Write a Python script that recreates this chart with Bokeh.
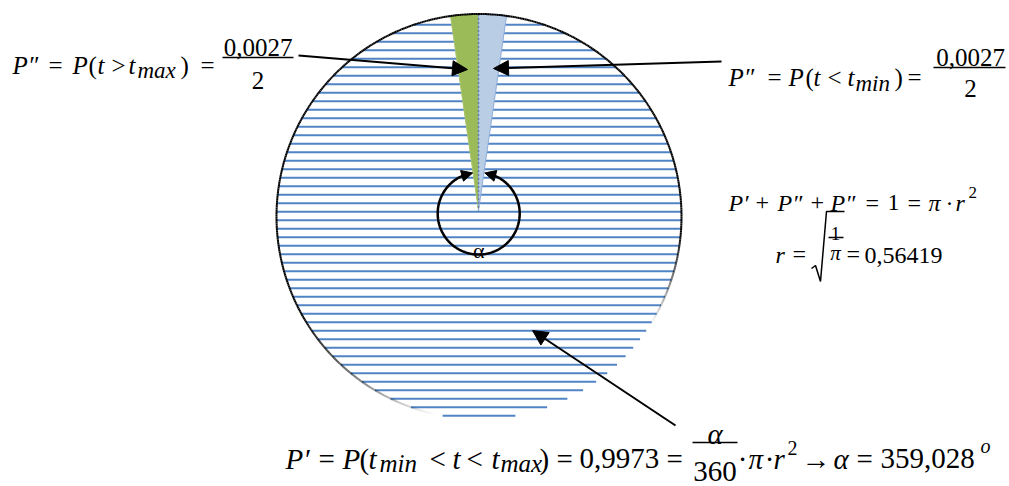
import numpy as np
from bokeh.plotting import figure
from bokeh.models import Range1d, Arrow, NormalHead
from bokeh.core.properties import value
from bokeh.embed import file_html
from bokeh.resources import INLINE

# ---------------- data (values shown in the diagram) ----------------
p_inside = 0.9973          # P'
p_tails = 0.0027           # P'' + P''
n_tails = 2
radius_r = 0.56419
alpha_deg = 359.028
full_turn = 360

def dec(v, nd):
    return f"{v:.{nd}f}".replace(".", ",")

tail_num = dec(p_tails, 4)
inside_txt = dec(p_inside, 4)
r_txt = dec(radius_r, 5)
alpha_txt = dec(alpha_deg, 3)

# ---------------- layout / style constants ----------------
FONT = "'Liberation Serif', 'DejaVu Serif', serif"
PW, PH = 1009, 486
CX, CY, R = 478.5, 216.0, 202.5          # big circle (page px)
APEX_X, APEX_Y = 478.0, 210.0            # wedge apex
WEDGE_DEG = 8.2                          # drawn (exaggerated) wedge opening
HATCH_Y0, HATCH_STEP = 15.7, 8.5
HATCH_COLOR = "#5184c4"
GREEN, LBLUE = "#9bbb59", "#b9cde5"
AX, AY, AR = 478.2, 213.0, 41.0          # angle arrow circle

p = figure(width=PW, height=PH, x_range=Range1d(0, PW), y_range=Range1d(PH, 0),
           output_backend="svg", toolbar_location=None, min_border=0,
           x_axis_type=None, y_axis_type=None)
p.grid.visible = False
p.outline_line_color = None
p.background_fill_color = "white"
p.border_fill_color = "white"

# ---- hatch lines inside the circle ----
ys = np.arange(HATCH_Y0, CY + R, HATCH_STEP)
hw = np.sqrt(np.clip(R**2 - (ys - CY)**2, 0, None))
p.segment(x0=CX - hw, y0=ys, x1=CX + hw, y1=ys, line_color=HATCH_COLOR, line_width=2)

# ---- wedges ----
def ray_hit(theta_deg):
    t = np.radians(theta_deg)
    dx, dy = np.sin(t), -np.cos(t)
    ox, oy = APEX_X - CX, APEX_Y - CY
    b = 2 * (ox * dx + oy * dy)
    c = ox**2 + oy**2 - R**2
    s = (-b + np.sqrt(b * b - 4 * c)) / 2
    return APEX_X + s * dx, APEX_Y + s * dy

def phi_of(x, y):
    return np.degrees(np.arctan2(x - CX, CY - y))

top_x = APEX_X
top_y = CY - np.sqrt(R**2 - (top_x - CX)**2)
phi_top = phi_of(top_x, top_y)

for sign, col, edge in [(-1, GREEN, "#a9c46f"), (1, LBLUE, "#8eaedb")]:
    hx, hy = ray_hit(sign * WEDGE_DEG)
    ph = np.linspace(phi_of(hx, hy), phi_top, 30)
    xs = [APEX_X] + list(CX + R * np.sin(np.radians(ph))) + [APEX_X]
    yy = [APEX_Y] + list(CY - R * np.cos(np.radians(ph))) + [APEX_Y]
    p.patch(xs, yy, fill_color=col, line_color=edge, line_width=1)

p.line([APEX_X, APEX_X], [top_y, APEX_Y], line_color="#6f7f99", line_width=1.5, line_dash="2 2")

# ---- circle outline (black, fading towards the bottom) ----
phis = np.linspace(0, 360, 721)
alph = np.interp(phis, [0, 95, 122, 192, 240, 360], [1, 1, 0, 0, 1, 1])
px = CX + R * np.sin(np.radians(phis))
py = CY - R * np.cos(np.radians(phis))
p.segment(x0=px[:-1], y0=py[:-1], x1=px[1:], y1=py[1:], line_color="black",
          line_alpha=alph[:-1], line_width=2)

# ---- angle arrow ----
ph = np.radians(np.linspace(13, 347, 200))
p.line(AX + AR * np.sin(ph), AY - AR * np.cos(ph), line_color="black", line_width=2.5)
for a0, a1 in [(22, 8.5), (-22, -8.5)]:
    r0, r1 = np.radians(a0), np.radians(a1)
    p.add_layout(Arrow(end=NormalHead(size=11, fill_color="black", line_color="black"),
                       x_start=AX + AR * np.sin(r0), y_start=AY - AR * np.cos(r0),
                       x_end=AX + AR * np.sin(r1), y_end=AY - AR * np.cos(r1),
                       line_alpha=0))

# ---- pointer arrows ----
for (x0, y0, x1, y1) in [(298, 55, 467, 69), (721, 61, 493, 68), (675, 425, 532, 330)]:
    p.add_layout(Arrow(end=NormalHead(size=15, fill_color="black", line_color="black"),
                       x_start=x0, y_start=y0, x_end=x1, y_end=y1,
                       line_color="black", line_width=2))

# ---- text helpers ----
def tok(txt, x, y, size, italic=False, align="left"):
    p.text(x=[x], y=[y], text=[txt], text_font=value(FONT),
           text_font_size=value(f"{size}px"),
           text_font_style=value("italic" if italic else "normal"),
           text_align=align, text_baseline="alphabetic", text_color="black")

def bar(x0, x1, y, w=1.6):
    p.line([x0, x1], [y, y], line_color="black", line_width=w)

# left formula: P'' = P(t > t_max) = 0,0027 / 2
B, S, SS = 65, 25, 23
for t, x, it in [("P″", 12, True), ("=", 48, False), ("P", 72, True), ("(", 88, False),
                 ("t", 97, True), (">", 111, False), ("t", 128, True), (")", 180, False),
                 ("=", 200, False)]:
    tok(t, x, B, S, it)
tok("max", 137, B + 5, SS, True)
bar(222, 293, 57)
tok(tail_num, 257.5, 47, S, align="center")
tok(str(n_tails), 257.5, 80, S, align="center")

# right formula: P'' = P(t < t_min) = 0,0027 / 2
B = 77
for t, x, it in [("P″", 728, True), ("=", 767, False), ("P", 788, True), ("(", 805, False),
                 ("t", 813, True), ("<", 827, False), ("t", 847, True), (")", 894, False),
                 ("=", 907, False)]:
    tok(t, x, B, S, it)
tok("min", 855, B + 6, SS, True)
bar(933, 1005, 67)
tok(tail_num, 970, 57, S, align="center")
tok(str(n_tails), 970, 88, S, align="center")

# middle right: P' + P'' + P'' = 1 = pi . r^2
B = 202
for t, x, it in [("P′", 728, True), ("+", 755, False), ("P″", 777, True), ("+", 810, False),
                 ("P″", 830, True), ("=", 865, False), ("1", 887, False), ("=", 907, False),
                 ("π", 928, True), ("r", 955, True)]:
    tok(t, x, B, 24, it)
tok("·", 949, B, 24, align="center")
tok("2", 968, 192, 17)
# r = sqrt(1/pi) = 0,56419
B2 = 254
tok("r", 775, B2, 24, True)
tok("=", 792, B2 - 1, 24)
p.line([811, 815, 820, 826, 844], [268, 265, 281, 211, 211], line_color="black", line_width=1.5)
tok("1", 835, 233, 19, align="center")
bar(828, 843, 237, 1.3)
tok("π", 835, 252, 21, True, align="center")
tok("=", 846, B2 - 1, 24)
tok(r_txt, 864, B2 + 1, 24)

# bottom: P' = P(t_min < t < t_max) = 0,9973 = alpha/360 . pi . r^2 -> alpha = 359,028 o
B, S, SS = 458, 29, 25
for t, x, it in [("P′", 285, True), ("=", 318, False), ("P", 342, True), ("(", 359, False),
                 ("t", 368, True), ("<", 429, False), ("t", 452, True), ("<", 466, False),
                 ("t", 491, True), (")", 539, False), ("=", 556, False), (inside_txt, 579, False),
                 ("=", 666, False), ("π", 748, True), ("r", 773, True), ("→", 801, False),
                 ("α", 833, True), ("=", 856, False), (alpha_txt, 880, False)]:
    tok(t, x, B, S, it)
tok("·", 742, B, S, align="center")
tok("·", 769, B, S, align="center")
tok("min", 379, B + 5, SS, True)
tok("max", 500, B + 5, SS, True)
bar(692, 737, B - 16)
tok("α", 714.5, B - 25, S, True, align="center")
tok(str(full_turn), 714.5, B + 13, S, align="center")
tok("2", 787, B - 11, 20)
tok("o", 980, B - 13, 20, True)

# alpha label inside the angle arrow
tok("α", AX, 250, 22, align="center")

open("out.html", "w").write(file_html(p, INLINE))
